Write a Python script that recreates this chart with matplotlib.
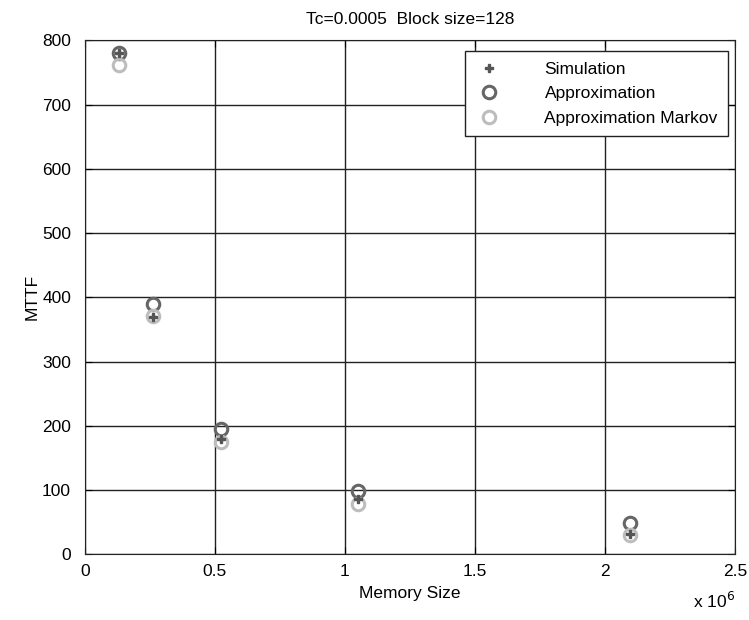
import matplotlib
matplotlib.use('Agg')
import matplotlib.pyplot as plt
from matplotlib.ticker import FuncFormatter

plt.rcParams['font.family'] = ['Liberation Sans', 'DejaVu Sans']

# memory sizes (words) and MTTF values per method
mem_size = [131072, 262144, 524288, 1048576, 2097152]
mttf_sim = [780, 370, 180, 86, 32]
mttf_approx = [781, 390, 195, 98, 49]
mttf_markov = [762, 371, 175, 79, 30]

fig = plt.figure(figsize=(7.49, 6.2), dpi=100)
ax = fig.add_axes([0.1135, 0.106, 0.8675, 0.829])

ax.plot(mem_size, mttf_approx, 'o', ls='none', mfc='none', mec='#666666',
        mew=2.2, ms=9, label='Approximation', zorder=3)
ax.plot(mem_size, mttf_markov, 'o', ls='none', mfc='none', mec='#bdbdbd',
        mew=2.2, ms=9, label='Approximation Markov', zorder=3)
ax.plot(mem_size, mttf_sim, 'P', ls='none', color='#555555',
        ms=6, label='Simulation', zorder=4)

ax.set_xlim(0, 2.5e6)
ax.set_ylim(0, 800)
ax.set_xticks([0, 0.5e6, 1e6, 1.5e6, 2e6, 2.5e6])
ax.set_yticks(range(0, 801, 100))
ax.xaxis.set_major_formatter(FuncFormatter(lambda v, p: '%g' % (v / 1e6)))
ax.grid(True, color='#222222', lw=1.0, ls='-')
ax.set_axisbelow(True)
ax.tick_params(direction='in', top=True, right=True, labelsize=12.5, length=5)
ax.tick_params(axis='y', pad=10)
ax.tick_params(axis='x', pad=7)
for s in ax.spines.values():
    s.set_color('#222222')

ax.set_xlabel('Memory Size', fontsize=12.5, labelpad=5)
ax.set_ylabel('MTTF', fontsize=12.5, labelpad=2)
ax.set_title('Tc=0.0005  Block size=128', fontsize=12.5, pad=12)
fig.text(0.981, 0.03, r'x 10$^6$', ha='right', va='center', fontsize=12.5)

handles, labels = ax.get_legend_handles_labels()
order = [2, 0, 1]
leg = ax.legend([handles[i] for i in order], [labels[i] for i in order],
                loc='upper right', bbox_to_anchor=(0.99, 0.979),
                fontsize=12.5, fancybox=False, framealpha=1,
                edgecolor='#222222', handlelength=1.6, handletextpad=2.4,
                labelspacing=0.55, borderpad=0.6, borderaxespad=0)
leg.get_frame().set_linewidth(1.0)

fig.savefig('out.png', dpi=100)
